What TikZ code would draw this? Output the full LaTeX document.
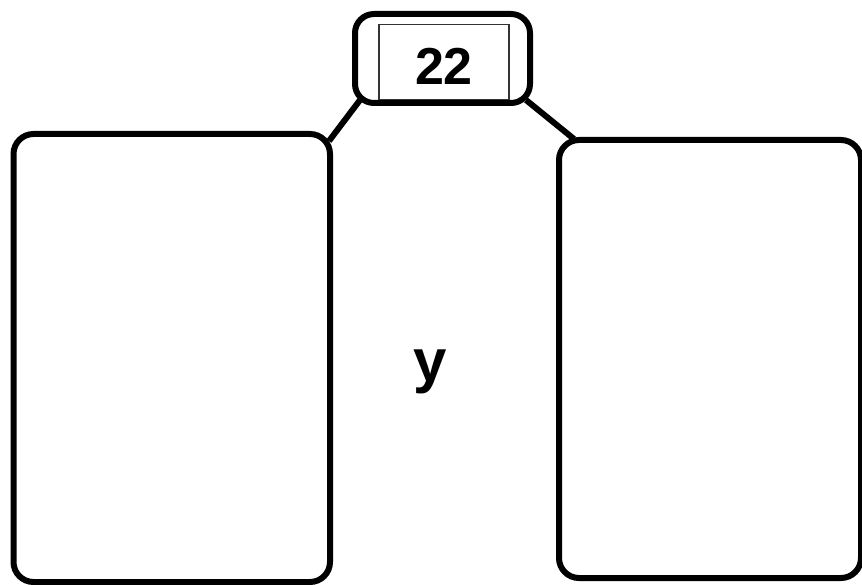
\documentclass[tikz,border=0pt]{standalone}
\usepackage{fontspec}
\setmainfont{Liberation Sans}
\begin{document}
\begin{tikzpicture}[x=1pt,y=-1pt,
  bigbox/.style={draw=black,line width=6pt,rounded corners=20pt},
  link/.style={draw=black,line width=6pt},
  inner/.style={draw=black!80,line width=1.3pt}]
\useasboundingbox (0,0) rectangle (862,585);
\draw[bigbox] (13.5,134) rectangle (330,582);
\coordinate (LTR) at (329,141);
\draw[bigbox] (559,140) rectangle (861,578);
\coordinate (RTL) at (574,139);
\draw[bigbox,rounded corners=19pt] (355,14) rectangle (530,103);
\coordinate (TBL) at (360,100);
\coordinate (TBR) at (526,100);
\node[inner,minimum width=130pt,minimum height=75pt,inner sep=0pt] (num) at (444,62) {};
\node[font=\bfseries\fontsize{52}{52}\selectfont] (lbl) at (444,66) {22};
\node[font=\bfseries\fontsize{60}{60}\selectfont,anchor=base] (y) at (430,381) {y};
\draw[link] (TBL) -- (LTR);
\draw[link] (TBR) -- (RTL);
\end{tikzpicture}
\end{document}
